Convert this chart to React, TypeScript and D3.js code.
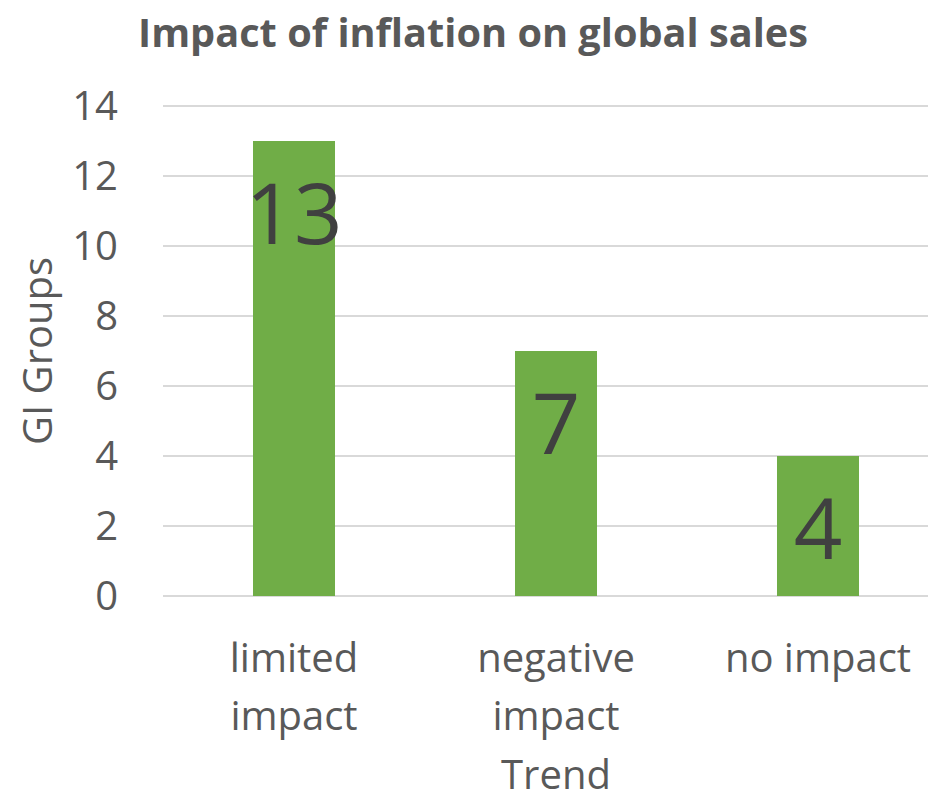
import React from "react";
import * as d3 from "d3";

const title = "Impact of inflation on global sales";
const categories = ["limited impact", "negative impact", "no impact"];
const values = [13, 7, 4];
const yTicks = [0, 2, 4, 6, 8, 10, 12, 14];
const yAxisTitle = "GI Groups";
const xAxisTitle = "Trend";

const W = 928;
const H = 799;
const FONT = "'Open Sans', sans-serif";

function wrap(text: string, maxW: number, font: string): string[] {
  const c = document.createElement("canvas").getContext("2d")!;
  c.font = font;
  const words = text.split(" ");
  const lines: string[] = [];
  let cur = "";
  for (const w of words) {
    const t = cur ? cur + " " + w : w;
    if (c.measureText(t).width > maxW && cur) {
      lines.push(cur);
      cur = w;
    } else cur = t;
  }
  if (cur) lines.push(cur);
  return lines;
}

export default function App() {
  const left = 163, right = 949, top = 106, bottom = 596;
  const x = d3.scaleBand<string>().domain(categories).range([left, right]).paddingInner(0.687).paddingOuter(0.3435);
  const y = d3.scaleLinear().domain([0, 14]).range([bottom, top]);
  const xc = (c: string) => (x(c) as number) + x.bandwidth() / 2;
  const step = x.step();

  return (
    <svg width={W} height={H} style={{ position: "absolute", left: 0, top: 0, background: "#fff" }}>
      <text x={473} y={47} textAnchor="middle" fontFamily={FONT} fontWeight="bold" fontSize={39}
        fill="#595959" textLength={670} lengthAdjust="spacingAndGlyphs">{title}</text>
      {yTicks.map((t) => (
        <g key={t}>
          <line x1={left} x2={right} y1={y(t)} y2={y(t)} stroke="#d9d9d9" strokeWidth={2} />
          <text x={118} y={y(t)} dy="0.36em" textAnchor="end" fontFamily={FONT} fontSize={40} fill="#595959">{t}</text>
        </g>
      ))}
      {categories.map((c, i) => (
        <g key={c}>
          <rect x={x(c)} y={y(values[i])} width={x.bandwidth()} height={y(0) - y(values[i])} fill="#70AD47" />
          <text x={xc(c)} y={y(values[i]) + 103} textAnchor="middle" fontFamily={FONT} fontSize={85} fill="#404040">{values[i]}</text>
          {wrap(c, step - 10, `40px 'Open Sans'`).map((ln, j) => (
            <text key={j} x={xc(c)} y={672 + j * 58} textAnchor="middle" fontFamily={FONT} fontSize={40} fill="#595959">{ln}</text>
          ))}
        </g>
      ))}
      <text x={(left + right) / 2} y={789} textAnchor="middle" fontFamily={FONT} fontSize={40} fill="#595959">{xAxisTitle}</text>
      <text transform={`translate(52,${(top + bottom) / 2}) rotate(-90)`} textAnchor="middle" fontFamily={FONT} fontSize={40} fill="#595959">{yAxisTitle}</text>
    </svg>
  );
}
